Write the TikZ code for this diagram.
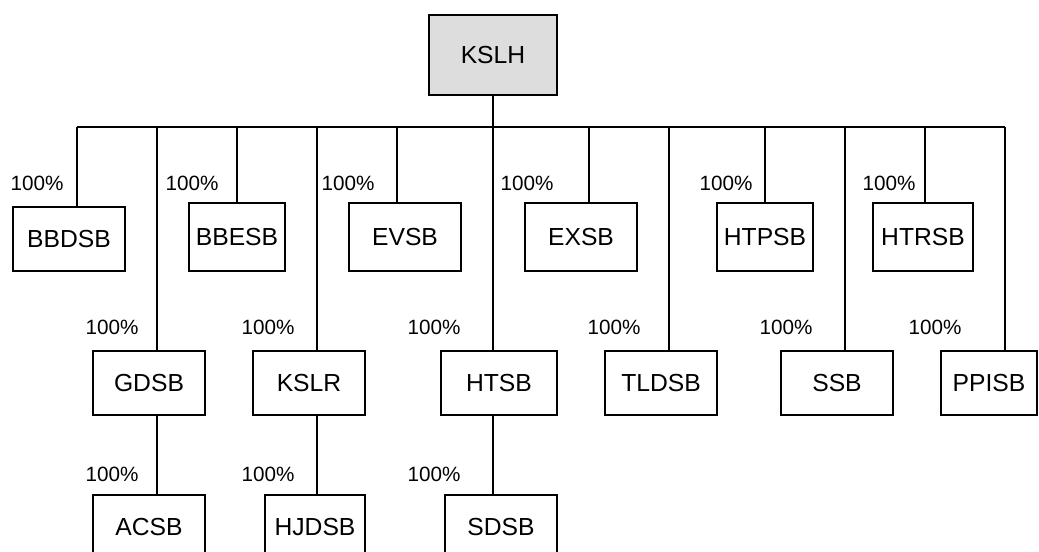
\documentclass[tikz,border=0pt]{standalone}
\usepackage{fontspec}
\setmainfont{Liberation Sans}
\usepackage{tikz}
\usetikzlibrary{positioning, calc}
\definecolor{holdgray}{RGB}{221,221,221}

\begin{document}
\begin{tikzpicture}[x=0.75pt, y=-0.75pt, line width=1.3pt,
  unit/.style={rectangle, draw, inner sep=0pt, minimum width=84pt, minimum height=51pt, font=\fontsize{18.5}{20}\selectfont},
  share/.style={inner sep=0pt, font=\fontsize{15.5}{17}\selectfont}]
  \useasboundingbox (0,0) rectangle (1039,552);
  \clip (0,0) rectangle (1039,552);

  % holding company
  \node[unit, fill=holdgray, minimum width=96pt, minimum height=60pt] (kslh) at (493,55) {KSLH};

  % first row
  \node[unit, minimum height=48pt] (bbdsb) at (69,239) {BBDSB};
  \node[unit, minimum width=72pt] (bbesb) at (237,237) {BBESB};
  \node[unit] (evsb) at (405,237) {EVSB};
  \node[unit] (exsb) at (581,237) {EXSB};
  \node[unit, minimum width=72pt] (htpsb) at (765,237) {HTPSB};
  \node[unit, minimum width=75pt] (htrsb) at (923,237) {HTRSB};

  % second row
  \node[unit, minimum height=48pt] (gdsb) at (149,383) {GDSB};
  \node[unit, minimum height=48pt] (kslr) at (309,383) {KSLR};
  \node[unit, minimum height=48pt, minimum width=87pt] (htsb) at (499,383) {HTSB};
  \node[unit, minimum height=48pt] (tldsb) at (661,383) {TLDSB};
  \node[unit, minimum height=48pt] (ssb) at (837,383) {SSB};
  \node[unit, minimum height=48pt, minimum width=72pt] (ppisb) at (989,383) {PPISB};

  % third row
  \node[unit, minimum height=48pt] (acsb) at (149,527) {ACSB};
  \node[unit, minimum height=48pt, minimum width=75pt] (hjdsb) at (315,527) {HJDSB};
  \node[unit, minimum height=48pt] (sdsb) at (501,527) {SDSB};

  % shareholding
  \node[share] (p1) at (37,183) {100\%};
  \node[share] (p2) at (192,183) {100\%};
  \node[share] (p3) at (348,183) {100\%};
  \node[share] (p4) at (527,183) {100\%};
  \node[share] (p5) at (726,183) {100\%};
  \node[share] (p6) at (889,183) {100\%};
  \node[share] (p7) at (112,327) {100\%};
  \node[share] (p8) at (268,327) {100\%};
  \node[share] (p9) at (434,327) {100\%};
  \node[share] (p10) at (614,327) {100\%};
  \node[share] (p11) at (786,327) {100\%};
  \node[share] (p12) at (935,327) {100\%};
  \node[share] (p13) at (112,474) {100\%};
  \node[share] (p14) at (268,474) {100\%};
  \node[share] (p15) at (434,474) {100\%};

  % bus
  \coordinate (bus) at (493,127);
  \coordinate (t1) at (77,127);
  \coordinate (t2) at (157,127);
  \coordinate (t3) at (237,127);
  \coordinate (t4) at (317,127);
  \coordinate (t5) at (397,127);
  \coordinate (t6) at (589,127);
  \coordinate (t7) at (669,127);
  \coordinate (t8) at (765,127);
  \coordinate (t9) at (845,127);
  \coordinate (t10) at (925,127);
  \coordinate (t11) at (1005,127);

  \draw (kslh) -- (bus);
  \draw (t1) -- (t11);

  \draw (t1) -- (t1 |- bbdsb.north);
  \draw (t3) -- (t3 |- bbesb.north);
  \draw (t5) -- (t5 |- evsb.north);
  \draw (t6) -- (t6 |- exsb.north);
  \draw (t8) -- (t8 |- htpsb.north);
  \draw (t10) -- (t10 |- htrsb.north);

  \draw (t2) -- (t2 |- gdsb.north);
  \draw (t4) -- (t4 |- kslr.north);
  \draw (bus) -- (bus |- htsb.north);
  \draw (t7) -- (t7 |- tldsb.north);
  \draw (t9) -- (t9 |- ssb.north);
  \draw (t11) -- (t11 |- ppisb.north);

  \draw (t2 |- gdsb.south) -- (t2 |- acsb.north);
  \draw (t4 |- kslr.south) -- (t4 |- hjdsb.north);
  \draw (bus |- htsb.south) -- (bus |- sdsb.north);
\end{tikzpicture}
\end{document}
